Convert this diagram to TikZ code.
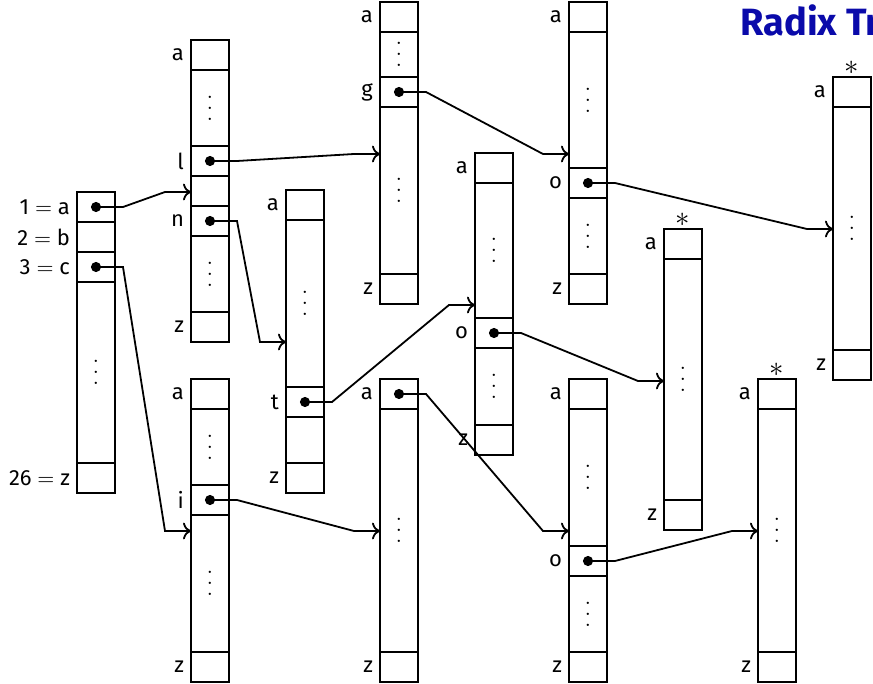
\documentclass[tikz,border=0pt]{standalone}
\usepackage{fontspec}
\setmainfont{Fira Sans}
\usepackage{tikz}
\usetikzlibrary{arrows.meta, positioning}
\definecolor{titleblue}{RGB}{10,10,170}
\newcommand{\colvdots}{\vbox{\baselineskip=5.5pt\lineskiplimit=0pt\hbox{$.$}\hbox{$.$}\hbox{$.$}}}

\begin{document}
\begin{tikzpicture}[
        x=0.5pt, y=-0.5pt,
        font=\fontsize{11}{13}\selectfont,
        node distance=0pt,
        cell/.style={draw, line width=1pt, minimum width=19pt, minimum height=15pt, inner sep=0pt, outer sep=0pt},
        dotcell/.style={cell, minimum height=#1},
        leaf/.style={label={[font=\fontsize{14}{16}\selectfont, inner sep=1pt]above:$*$}},
        ptr/.style={line width=0.9pt, {Circle[length=5pt]}-{To[length=4pt]}, shorten <=-2.5pt}
    ]
        \useasboundingbox (0,0) rectangle (873,684);
        \node[anchor=base west, inner sep=0pt, text=titleblue, font=\fontsize{19}{22}\selectfont\bfseries] (title) at (740,36) {Radix Tr};

        % root
        \node[cell, label=left:{1 $=$ a}] (root-a) at (96,207) {};
        \node[cell, below=of root-a, label=left:{2 $=$ b}] (root-b) {};
        \node[cell, below=of root-b, label=left:{3 $=$ c}] (root-c) {};
        \node[dotcell=90.5pt, below=of root-c] (root-d) {\colvdots};
        \node[cell, below=of root-d, label=left:{26 $=$ z}] (root-z) {};

        % a
        \node[cell, label=left:a] (a-a) at (210,55) {};
        \node[dotcell=38pt, below=of a-a] (a-d1) {\colvdots};
        \node[cell, below=of a-d1, label=left:l] (a-l) {};
        \node[cell, below=of a-l] (a-m) {};
        \node[cell, below=of a-m, label=left:n] (a-n) {};
        \node[dotcell=38pt, below=of a-n] (a-d2) {\colvdots};
        \node[cell, below=of a-d2, label=left:z] (a-z) {};

        % an
        \node[cell, label=left:a] (an-a) at (305,205) {};
        \node[dotcell=83.5pt, below=of an-a] (an-d1) {\colvdots};
        \node[cell, below=of an-d1, label=left:t] (an-t) {};
        \node[dotcell=23pt, below=of an-t] (an-d2) {};
        \node[cell, below=of an-d2, label=left:z] (an-z) {};

        % al
        \node[cell, label=left:a] (al-a) at (399,17) {};
        \node[dotcell=22.5pt, below=of al-a] (al-d1) {\colvdots};
        \node[cell, below=of al-d1, label=left:g] (al-g) {};
        \node[dotcell=83.5pt, below=of al-g] (al-d2) {\colvdots};
        \node[cell, below=of al-d2, label=left:z] (al-z) {};

        % ant
        \node[cell, label=left:a] (ant-a) at (494,168) {};
        \node[dotcell=67.5pt, below=of ant-a] (ant-d1) {\colvdots};
        \node[cell, below=of ant-d1, label=left:o] (ant-o) {};
        \node[dotcell=38.5pt, below=of ant-o] (ant-d2) {\colvdots};
        \node[cell, below=of ant-d2, label=left:z] (ant-z) {};

        % alg
        \node[cell, label=left:a] (alg-a) at (588,17) {};
        \node[dotcell=68pt, below=of alg-a] (alg-d1) {\colvdots};
        \node[cell, below=of alg-d1, label=left:o] (alg-o) {};
        \node[dotcell=38pt, below=of alg-o] (alg-d2) {\colvdots};
        \node[cell, below=of alg-d2, label=left:z] (alg-z) {};

        % algo
        \node[cell, leaf, label=left:a] (algo-a) at (852,92) {};
        \node[dotcell=121.5pt, below=of algo-a] (algo-d) {\colvdots};
        \node[cell, below=of algo-d, label=left:z] (algo-z) {};

        % anto
        \node[cell, leaf, label=left:a] (anto-a) at (683,244) {};
        \node[dotcell=120.5pt, below=of anto-a] (anto-d) {\colvdots};
        \node[cell, below=of anto-d, label=left:z] (anto-z) {};

        % c
        \node[cell, label=left:a] (c-a) at (210,394) {};
        \node[dotcell=38pt, below=of c-a] (c-d1) {\colvdots};
        \node[cell, below=of c-d1, label=left:i] (c-i) {};
        \node[dotcell=68.5pt, below=of c-i] (c-d2) {\colvdots};
        \node[cell, below=of c-d2, label=left:z] (c-z) {};

        % ci
        \node[cell, label=left:a] (ci-a) at (399,394) {};
        \node[dotcell=121.5pt, below=of ci-a] (ci-d) {\colvdots};
        \node[cell, below=of ci-d, label=left:z] (ci-z) {};

        % cia
        \node[cell, label=left:a] (cia-a) at (588,394) {};
        \node[dotcell=68.5pt, below=of cia-a] (cia-d1) {\colvdots};
        \node[cell, below=of cia-d1, label=left:o] (cia-o) {};
        \node[dotcell=38pt, below=of cia-o] (cia-d2) {\colvdots};
        \node[cell, below=of cia-d2, label=left:z] (cia-z) {};

        % ciao
        \node[cell, leaf, label=left:a] (ciao-a) at (777,394) {};
        \node[dotcell=121.5pt, below=of ciao-a] (ciao-d) {\colvdots};
        \node[cell, below=of ciao-d, label=left:z] (ciao-z) {};

        % entry points
        \coordinate (a-in)    at ([yshift=-76pt]a-a.north west);
        \coordinate (an-in)   at ([yshift=-76pt]an-a.north west);
        \coordinate (al-in)   at ([yshift=-76pt]al-a.north west);
        \coordinate (ant-in)  at ([yshift=-76pt]ant-a.north west);
        \coordinate (alg-in)  at ([yshift=-76pt]alg-a.north west);
        \coordinate (algo-in) at ([yshift=-76pt]algo-a.north west);
        \coordinate (anto-in) at ([yshift=-76pt]anto-a.north west);
        \coordinate (c-in)    at ([yshift=-76pt]c-a.north west);
        \coordinate (ci-in)   at ([yshift=-76pt]ci-a.north west);
        \coordinate (cia-in)  at ([yshift=-76pt]cia-a.north west);
        \coordinate (ciao-in) at ([yshift=-76pt]ciao-a.north west);

        % pointers
        \draw[ptr] (root-a.center) -- ++(27,0) -- ([xshift=-13pt]a-in) -- (a-in);
        \draw[ptr] (root-c.center) -- ++(27,0) -- ([xshift=-13pt]c-in) -- (c-in);
        \draw[ptr] (a-l.center) -- ++(27,0) -- ([xshift=-13pt]al-in) -- (al-in);
        \draw[ptr] (a-n.center) -- ++(27,0) -- ([xshift=-13pt]an-in) -- (an-in);
        \draw[ptr] (al-g.center) -- ++(27,0) -- ([xshift=-13pt]alg-in) -- (alg-in);
        \draw[ptr] (alg-o.center) -- ++(27,0) -- ([xshift=-13pt]algo-in) -- (algo-in);
        \draw[ptr] (an-t.center) -- ++(27,0) -- ([xshift=-13pt]ant-in) -- (ant-in);
        \draw[ptr] (ant-o.center) -- ++(27,0) -- ([xshift=-13pt]anto-in) -- (anto-in);
        \draw[ptr] (c-i.center) -- ++(27,0) -- ([xshift=-13pt]ci-in) -- (ci-in);
        \draw[ptr] (ci-a.center) -- ++(27,0) -- ([xshift=-13pt]cia-in) -- (cia-in);
        \draw[ptr] (cia-o.center) -- ++(27,0) -- ([xshift=-13pt]ciao-in) -- (ciao-in);
    \end{tikzpicture}
\end{document}
